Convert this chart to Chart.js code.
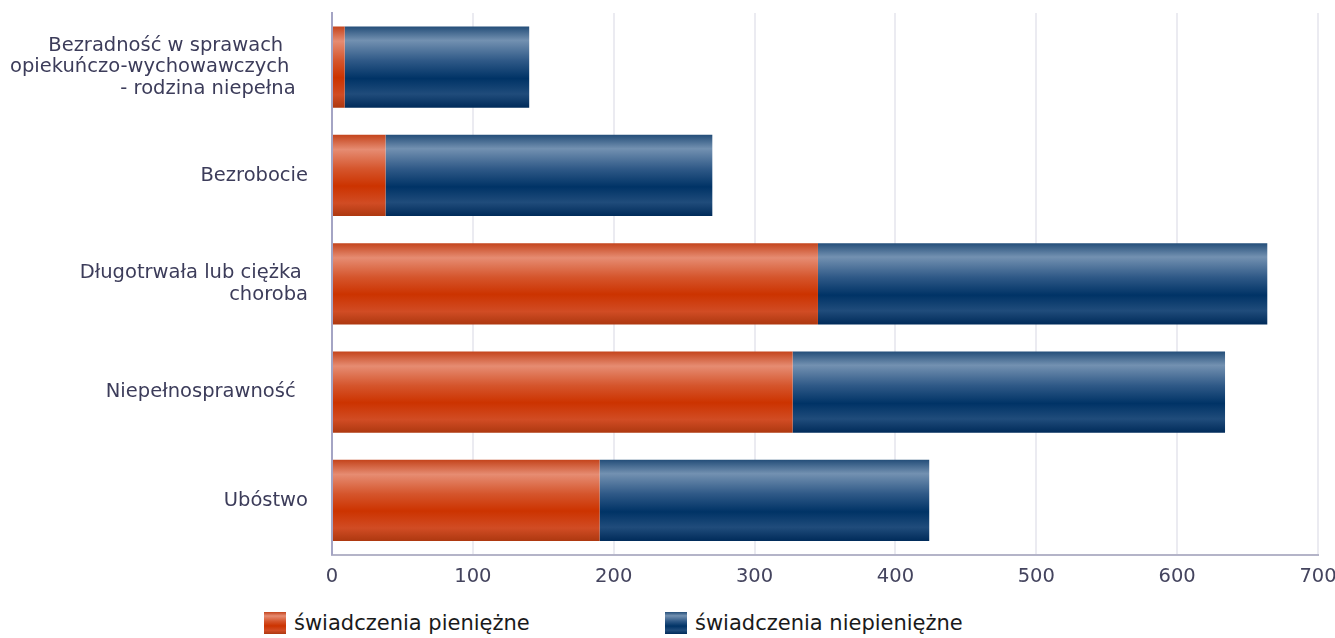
<!DOCTYPE html>
<html>
<head>
<meta charset="utf-8">
<script src="https://cdn.jsdelivr.net/npm/chart.js@4"></script>
<style>
  html, body { margin: 0; padding: 0; background: #fff; overflow: hidden; }
  #wrap { width: 1335px; height: 638px; position: relative; }
  #chart-box { width: 1335px; height: 600px; }
  #legend { display: flex; padding-left: 264px; padding-top: 10px; height: 26px; align-items: center;
            font-family: "DejaVu Sans", sans-serif; font-size: 21px; color: #1a1a1a; }
  .lg-item { display: flex; align-items: center; }
  .lg-item:first-child { width: 401px; }
  .lg-box { width: 22px; height: 22px; margin-right: 8px; }
</style>
</head>
<body>
<div id="wrap">
  <div id="chart-box"><canvas id="c"></canvas></div>
  <div id="legend"></div>
</div>
<script>
// dane
const categories = [
  ["Bezradność w sprawach    ", "opiekuńczo-wychowawczych   ", "- rodzina niepełna  "],
  "Bezrobocie",
  ["Długotrwała lub ciężka ", "choroba"],
  "Niepełnosprawność  ",
  "Ubóstwo"
];
const seriesNames = ["świadczenia pieniężne", "świadczenia niepieniężne"];
const cashValues = [9, 38, 345, 327, 190];
const nonCashValues = [131, 232, 319, 307, 234];
const xTicks = [0, 100, 200, 300, 400, 500, 600, 700];

// gradienty (offset, kolor)
const orangeStops = [
  [0, "#c4441c"], [0.18, "#e68c72"], [0.42, "#d5552c"], [0.63, "#cc3300"],
  [0.84, "#d14c24"], [1, "#ad3810"]
];
const blueStops = [
  [0, "#244e79"], [0.17, "#7391b1"], [0.42, "#2f5987"], [0.64, "#003366"],
  [0.83, "#204c7b"], [1, "#002b5a"]
];

const BAR_FRACTION = 0.75;

function barGradient(stops) {
  return ctx => {
    const chart = ctx.chart;
    const y = chart.scales && chart.scales.y;
    if (!y || ctx.dataIndex === undefined || !y.height) return stops[3][1];
    const c = y.getPixelForValue(ctx.dataIndex);
    const half = (y.height / categories.length) * BAR_FRACTION / 2;
    const g = chart.ctx.createLinearGradient(0, c - half, 0, c + half);
    stops.forEach(([o, col]) => g.addColorStop(o, col));
    return g;
  };
}

const cssGradient = stops =>
  "linear-gradient(to bottom, " + stops.map(([o, c]) => c + " " + (o * 100) + "%").join(", ") + ")";

const font = { family: "DejaVu Sans", size: 19.5, lineHeight: 1.1 };

// bez dodatkowych marginesow od etykiet, ustawiamy je recznie w layout.padding
const noPad = s => { s.paddingTop = 0; s.paddingBottom = 0; s.paddingLeft = 0; s.paddingRight = 0; };

const chart = new Chart(document.getElementById('c'), {
  type: 'bar',
  data: {
    labels: categories,
    datasets: [
      { label: seriesNames[0], data: cashValues, backgroundColor: barGradient(orangeStops) },
      { label: seriesNames[1], data: nonCashValues, backgroundColor: barGradient(blueStops) }
    ]
  },
  options: {
    indexAxis: 'y',
    responsive: true,
    maintainAspectRatio: false,
    animation: false,
    layout: { padding: { top: 13, right: 17, bottom: 0, left: 0 } },
    datasets: { bar: { categoryPercentage: 1, barPercentage: BAR_FRACTION, borderWidth: 0 } },
    plugins: { legend: { display: false }, tooltip: { enabled: false } },
    scales: {
      x: {
        stacked: true,
        min: 0, max: 700,
        afterBuildTicks: s => { s.ticks = xTicks.map(v => ({ value: v })); },
        afterFit: noPad,
        grid: { color: "#ebebf1", lineWidth: 2, drawTicks: false },
        border: { color: "#b4b4c8", width: 2 },
        ticks: { font: { ...font, lineHeight: 1.2 }, color: "#44445e", padding: 11 }
      },
      y: {
        stacked: true,
        afterFit: s => { noPad(s); s.width = 332; },
        grid: { display: false, drawTicks: false },
        border: { color: "#a4a4c4", width: 2 },
        ticks: { font, color: "#3c3c5a", padding: 24 }
      }
    }
  }
});

// legenda
const legend = document.getElementById('legend');
[orangeStops, blueStops].forEach((stops, i) => {
  const item = document.createElement('div');
  item.className = 'lg-item';
  const box = document.createElement('div');
  box.className = 'lg-box';
  box.style.background = cssGradient(stops);
  const txt = document.createElement('span');
  txt.textContent = seriesNames[i];
  item.appendChild(box);
  item.appendChild(txt);
  legend.appendChild(item);
});
</script>
</body>
</html>
